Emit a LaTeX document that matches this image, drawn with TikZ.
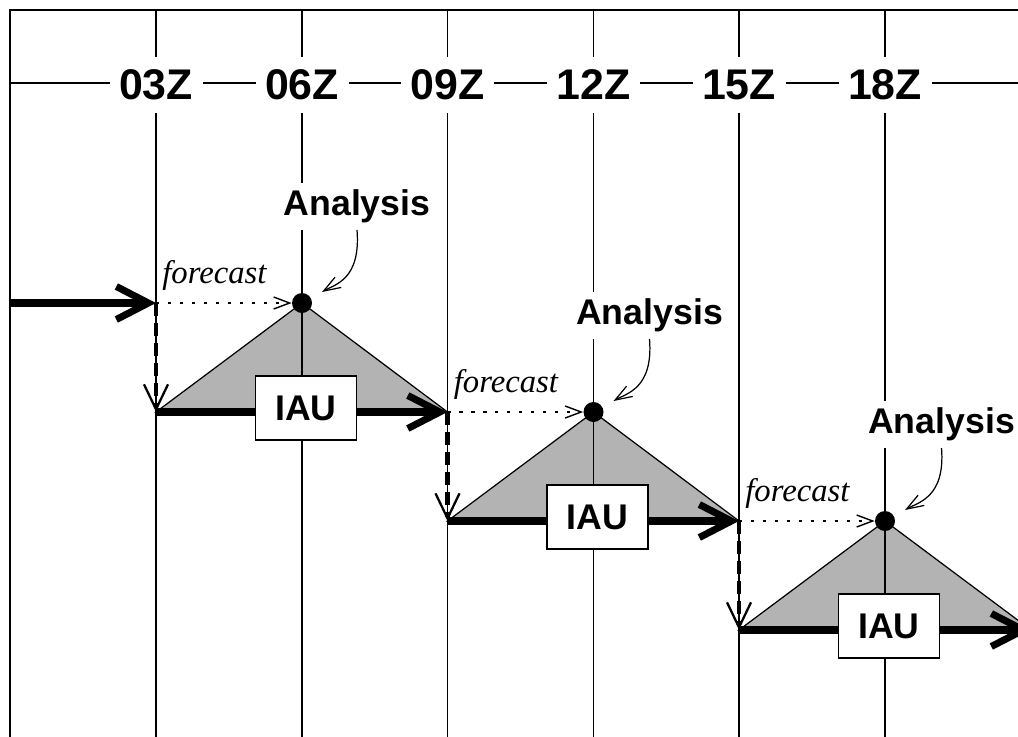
\documentclass[tikz,border=0pt]{standalone}
\usepackage{fontspec}
\setmainfont{Liberation Serif}
\setsansfont{Liberation Sans}
\usepackage{tikz}
\usepackage{xcolor}
\usetikzlibrary{arrows.meta, calc, positioning}
\definecolor{grisRelleno}{HTML}{b3b3b3}

\begin{document}
\begin{tikzpicture}[
  % Estilos de nodos
  nodoHora/.style={
    fill=white, font=\sffamily\bfseries\fontsize{24.4}{28}\selectfont,
    inner sep=0pt, minimum width=1.86cm, minimum height=1.12cm
  },
  nodoAnalisis/.style={
    fill=white, font=\sffamily\bfseries\fontsize{20.3}{24}\selectfont,
    inner xsep=2pt, inner ysep=0pt, minimum height=0.94cm, anchor=south
  },
  nodoIAU/.style={
    rectangle, draw=black, line width=0.7pt, fill=white,
    font=\sffamily\bfseries\fontsize{20.3}{24}\selectfont,
    minimum width=2.02cm, minimum height=1.28cm
  },
  nodoPunto/.style={
    circle, fill=black, inner sep=0pt, minimum size=4mm
  },
  etiqPronostico/.style={
    font=\itshape\fontsize{18.6}{22}\selectfont,
    inner sep=0pt, anchor=base west
  },
  % Estilos de lineas y flechas
  rejilla/.style={line width=0.7pt},
  triangulo/.style={fill=grisRelleno, draw=black, line width=0.7pt},
  flechaGruesa/.style={
    line width=4pt, -{Straight Barb[length=6.4mm, width=6.6mm]}
  },
  flechaDiscontinua/.style={
    line width=2.6pt, dash pattern=on 0.25cm off 0.15cm,
    -{Straight Barb[length=5mm, width=4.8mm, line width=1.3pt]}
  },
  flechaPuntos/.style={
    line width=1.5pt, dash pattern=on 1.8pt off 5pt,
    -{Straight Barb[length=3.2mm, width=2.4mm, line width=0.8pt]}
  },
  flechaCurva/.style={
    line width=0.7pt, -{Straight Barb[length=3.4mm, width=2.4mm]}
  }
]

\path[use as bounding box, clip] (0,0) rectangle (20.36,-14.72);

% --- Puntos de cada ciclo ---
\coordinate (entrada) at (0.2,-6.06);
\coordinate (s0) at (3.12,-6.06);
\coordinate (b0) at (3.12,-8.24);
\coordinate (c0) at (6.04,-6.06);
\coordinate (s1) at (8.95,-8.24);
\coordinate (b1) at (8.95,-10.42);
\coordinate (c1) at (11.87,-8.24);
\coordinate (s2) at (14.78,-10.42);
\coordinate (b2) at (14.78,-12.60);
\coordinate (c2) at (17.70,-10.42);
\coordinate (fin) at (20.62,-12.60);

% --- Triangulos IAU ---
\draw[triangulo] (b0) -- (c0) -- (s1) -- cycle;
\draw[triangulo] (b1) -- (c1) -- (s2) -- cycle;
\draw[triangulo] (b2) -- (c2) -- (fin) -- cycle;

% --- Rejilla de horas ---
\draw[rejilla] (3.12,-0.2) -- (3.12,-15) (6.04,-0.2) -- (6.04,-15)
  (8.95,-0.2) -- (8.95,-15) (11.87,-0.2) -- (11.87,-15)
  (14.78,-0.2) -- (14.78,-15) (17.70,-0.2) -- (17.70,-15);
\draw[rejilla] (0.2,-1.66) -- (21,-1.66);

\node[nodoHora] (h03) at (3.12,-1.70) {03Z};
\node[nodoHora] (h06) at (6.04,-1.70) {06Z};
\node[nodoHora] (h09) at (8.95,-1.70) {09Z};
\node[nodoHora] (h12) at (11.87,-1.70) {12Z};
\node[nodoHora] (h15) at (14.78,-1.70) {15Z};
\node[nodoHora] (h18) at (17.70,-1.70) {18Z};

% --- Analisis ---
\node[nodoPunto] (d0) at (c0) {};
\node[nodoPunto] (d1) at (c1) {};
\node[nodoPunto] (d2) at (c2) {};

\node[nodoAnalisis] (a0) at ($(c0)+(1.10,1.46)$) {Analysis};
\node[nodoAnalisis] (a1) at ($(c1)+(1.12,1.46)$) {Analysis};
\node[nodoAnalisis] (a2) at ($(c2)+(1.13,1.46)$) {Analysis};

\coordinate (p0) at ($(c0)+(0.40,0.22)$);
\coordinate (p1) at ($(c1)+(0.40,0.22)$);
\coordinate (p2) at ($(c2)+(0.40,0.22)$);

\draw[flechaCurva] (a0.south) .. controls +(0.08,-1.0) and +(0.25,0.15) .. (p0);
\draw[flechaCurva] (a1.south) .. controls +(0.08,-1.0) and +(0.25,0.15) .. (p1);
\draw[flechaCurva] (a2.south) .. controls +(0.08,-1.0) and +(0.25,0.15) .. (p2);

% --- Pronosticos ---
\draw[flechaGruesa] (entrada) -- (s0);
\draw[flechaPuntos] (s0) -- (d0);
\draw[flechaPuntos] (s1) -- (d1);
\draw[flechaPuntos] (s2) -- (d2);

\node[etiqPronostico] (f0) at ($(s0)+(0.12,0.40)$) {forecast};
\node[etiqPronostico] (f1) at ($(s1)+(0.12,0.40)$) {forecast};
\node[etiqPronostico] (f2) at ($(s2)+(0.12,0.40)$) {forecast};

\draw[flechaDiscontinua] (s0) -- (b0);
\draw[flechaDiscontinua] (s1) -- (b1);
\draw[flechaDiscontinua] (s2) -- (b2);

% --- Flechas IAU ---
\draw[flechaGruesa] (b0) -- (s1);
\draw[flechaGruesa] (b1) -- (s2);
\draw[flechaGruesa] (b2) -- (fin);

\node[nodoIAU] (iau0) at ($(c0)+(0.08,-2.10)$) {IAU};
\node[nodoIAU] (iau1) at ($(c1)+(0.08,-2.10)$) {IAU};
\node[nodoIAU] (iau2) at ($(c2)+(0.08,-2.10)$) {IAU};

% --- Marco ---
\draw[line width=1.2pt] (0.2,-0.2) rectangle (21,-15.5);

\end{tikzpicture}
\end{document}
